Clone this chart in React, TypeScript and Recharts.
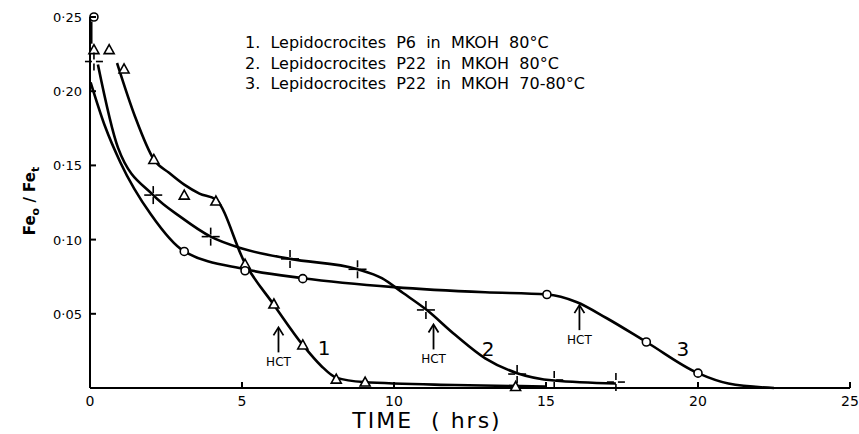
import { ComposedChart, Line, Scatter, XAxis, YAxis } from "recharts";

// tick values and labels
const xTicks = [0, 5, 10, 15, 20, 25];
const yTicks = [0.05, 0.1, 0.15, 0.2, 0.25];
const yTickLabels = ["0·05", "0·10", "0·15", "0·20", "0·25"];

const legendLines = [
  "1.  Lepidocrocites  P6  in  MKOH  80°C",
  "2.  Lepidocrocites  P22  in  MKOH  80°C",
  "3.  Lepidocrocites  P22  in  MKOH  70-80°C",
];

// drawn curves
const curve1 = [
  { x: 0.89, y: 0.219 }, { x: 1.48, y: 0.183 }, { x: 2.1, y: 0.154 },
  { x: 2.6, y: 0.145 }, { x: 3.1, y: 0.137 }, { x: 3.6, y: 0.131 },
  { x: 4.14, y: 0.127 }, { x: 5.1, y: 0.084 }, { x: 6.05, y: 0.056 },
  { x: 7.0, y: 0.029 }, { x: 7.6, y: 0.015 }, { x: 8.1, y: 0.007 },
  { x: 9.0, y: 0.004 }, { x: 12, y: 0.002 }, { x: 15, y: 0.001 },
];
const curve2 = [
  { x: 0.26, y: 0.218 }, { x: 0.92, y: 0.162 }, { x: 2.08, y: 0.13 },
  { x: 3.0, y: 0.115 }, { x: 3.97, y: 0.102 }, { x: 5.0, y: 0.094 },
  { x: 6.58, y: 0.087 }, { x: 8.8, y: 0.08 }, { x: 9.6, y: 0.074 },
  { x: 10.3, y: 0.064 }, { x: 11.05, y: 0.053 }, { x: 12, y: 0.036 },
  { x: 13, y: 0.02 }, { x: 14.05, y: 0.01 }, { x: 15.27, y: 0.005 },
  { x: 17.3, y: 0.003 },
];
const curve3 = [
  { x: 0.02, y: 0.206 }, { x: 0.5, y: 0.176 }, { x: 1.0, y: 0.152 },
  { x: 2.0, y: 0.117 }, { x: 3.1, y: 0.092 }, { x: 5.1, y: 0.08 },
  { x: 7.0, y: 0.074 }, { x: 10, y: 0.068 }, { x: 13, y: 0.0645 },
  { x: 15.03, y: 0.063 }, { x: 16, y: 0.058 }, { x: 17, y: 0.047 },
  { x: 18.3, y: 0.031 }, { x: 20, y: 0.01 }, { x: 21, y: 0.003 },
  { x: 22.5, y: 0 },
];
const stem = [
  { x: 0.05, y: 0.247 }, { x: 0.05, y: 0.232 },
];

// plotted points
const triangles = [
  { x: 0.13, y: 0.228 }, { x: 0.63, y: 0.228 }, { x: 1.12, y: 0.215 },
  { x: 2.1, y: 0.154 }, { x: 3.1, y: 0.13 }, { x: 4.14, y: 0.126 },
  { x: 5.1, y: 0.0835 }, { x: 6.05, y: 0.0566 }, { x: 7.0, y: 0.029 },
  { x: 8.1, y: 0.006 }, { x: 9.05, y: 0.004 }, { x: 14.0, y: 0.001 },
];
const crosses = [
  { x: 0.13, y: 0.22 }, { x: 2.08, y: 0.13 }, { x: 3.97, y: 0.102 },
  { x: 6.58, y: 0.087 }, { x: 8.8, y: 0.08 }, { x: 11.05, y: 0.0526 },
  { x: 14.05, y: 0.0094 }, { x: 15.27, y: 0.0054 }, { x: 17.3, y: 0.004 },
];
const circles = [
  { x: 0.13, y: 0.25 }, { x: 3.1, y: 0.092 }, { x: 5.1, y: 0.079 },
  { x: 7.0, y: 0.0737 }, { x: 15.03, y: 0.063 }, { x: 18.3, y: 0.031 },
  { x: 20.0, y: 0.01 },
];

// annotations
const hctArrows = [
  { x: 6.2, y: 0.024 }, { x: 11.3, y: 0.026 }, { x: 16.1, y: 0.039 },
];
const curveNumbers = [
  { x: 7.7, y: 0.027, text: "1" },
  { x: 13.1, y: 0.026, text: "2" },
  { x: 19.5, y: 0.026, text: "3" },
];

const font = "'DejaVu Sans', sans-serif";

const XTick = (props: any) => {
  const { x, y, payload } = props;
  return (
    <g>
      {payload.value !== 0 && (
        <line x1={x} x2={x} y1={y - 2} y2={y - 8} stroke="#000" strokeWidth={2} />
      )}
      <text x={x} y={y + 16} textAnchor="middle" fontSize={14} fontFamily={font} fill="#000">
        {payload.value}
      </text>
    </g>
  );
};

const YTick = (props: any) => {
  const { x, y, payload, index } = props;
  return (
    <g>
      <line x1={x + 2} x2={x + 8} y1={y} y2={y} stroke="#000" strokeWidth={2} />
      <text x={x - 6} y={y + 5} textAnchor="end" fontSize={13} fontFamily={font} fill="#000">
        {yTickLabels[index] ?? payload.value}
      </text>
    </g>
  );
};

const Triangle = (p: any) => (
  <polygon
    points={`${p.cx},${p.cy - 5} ${p.cx - 5},${p.cy + 4} ${p.cx + 5},${p.cy + 4}`}
    fill="#fff"
    stroke="#000"
    strokeWidth={1.6}
  />
);

const Circle = (p: any) => (
  <circle cx={p.cx} cy={p.cy} r={4} fill="#fff" stroke="#000" strokeWidth={1.6} />
);

const Cross = (p: any) => (
  <g stroke="#000" strokeWidth={1.6}>
    <line x1={p.cx - 9} x2={p.cx - 2} y1={p.cy} y2={p.cy} />
    <line x1={p.cx + 2} x2={p.cx + 9} y1={p.cy} y2={p.cy} />
    <line x1={p.cx} x2={p.cx} y1={p.cy - 9} y2={p.cy - 2} />
    <line x1={p.cx} x2={p.cx} y1={p.cy + 2} y2={p.cy + 9} />
  </g>
);

const Arrow = (p: any) => (
  <g>
    <line x1={p.cx} x2={p.cx} y1={p.cy} y2={p.cy - 24} stroke="#000" strokeWidth={1.8} />
    <polyline
      points={`${p.cx - 5},${p.cy - 17} ${p.cx},${p.cy - 25} ${p.cx + 5},${p.cy - 17}`}
      fill="none"
      stroke="#000"
      strokeWidth={1.8}
    />
    <text x={p.cx} y={p.cy + 14} textAnchor="middle" fontSize={12} fontFamily={font} fill="#000">
      HCT
    </text>
  </g>
);

const NumberLabel = (p: any) => (
  <text x={p.cx} y={p.cy + 7} textAnchor="middle" fontSize={20} fontFamily={font} fill="#000">
    {p.payload.text}
  </text>
);

export default function App() {
  return (
    <div style={{ position: "absolute", left: 0, top: 0, width: 859, height: 434, background: "#fff" }}>
      <ComposedChart
        width={859}
        height={434}
        margin={{ top: 17, right: 9, left: 30, bottom: 16 }}
      >
        <XAxis
          type="number"
          dataKey="x"
          domain={[0, 25]}
          ticks={xTicks}
          tick={<XTick />}
          tickLine={false}
          tickSize={0}
          axisLine={{ stroke: "#000", strokeWidth: 2 }}
          height={30}
        />
        <YAxis
          type="number"
          dataKey="y"
          domain={[0, 0.25]}
          ticks={yTicks}
          tick={<YTick />}
          tickLine={false}
          tickSize={0}
          axisLine={{ stroke: "#000", strokeWidth: 2 }}
          width={60}
        />
        <Line data={stem} dataKey="y" type="linear" stroke="#000" strokeWidth={2} dot={false} isAnimationActive={false} />
        <Line data={curve1} dataKey="y" type="monotone" stroke="#000" strokeWidth={2.6} dot={false} isAnimationActive={false} />
        <Line data={curve2} dataKey="y" type="monotone" stroke="#000" strokeWidth={2.6} dot={false} isAnimationActive={false} />
        <Line data={curve3} dataKey="y" type="monotone" stroke="#000" strokeWidth={2.6} dot={false} isAnimationActive={false} />
        <Scatter data={triangles} dataKey="y" shape={<Triangle />} isAnimationActive={false} />
        <Scatter data={crosses} dataKey="y" shape={<Cross />} isAnimationActive={false} />
        <Scatter data={circles} dataKey="y" shape={<Circle />} isAnimationActive={false} />
        <Scatter data={hctArrows} dataKey="y" shape={<Arrow />} isAnimationActive={false} />
        <Scatter data={curveNumbers} dataKey="y" shape={<NumberLabel />} isAnimationActive={false} />
      </ComposedChart>
      <div
        style={{
          position: "absolute",
          left: 245,
          top: 33,
          fontFamily: font,
          fontSize: 16,
          lineHeight: "20.5px",
          whiteSpace: "pre",
          color: "#000",
        }}
      >
        {legendLines.map((l) => (
          <div key={l}>{l}</div>
        ))}
      </div>
      <div
        style={{
          position: "absolute",
          left: 31,
          top: 201,
          transform: "translate(-50%, -50%) rotate(-90deg)",
          fontFamily: font,
          fontSize: 15,
          fontWeight: "bold",
          whiteSpace: "pre",
          color: "#000",
        }}
      >
        Fe<sub style={{ fontSize: 11 }}>o</sub> / Fe<sub style={{ fontSize: 11 }}>t</sub>
      </div>
      <div
        style={{
          position: "absolute",
          left: 247,
          top: 410,
          width: 360,
          textAlign: "center",
          fontFamily: font,
          fontSize: 22,
          lineHeight: "22px",
          letterSpacing: 2,
          whiteSpace: "pre",
          color: "#000",
        }}
      >
        TIME  ( hrs)
      </div>
    </div>
  );
}
